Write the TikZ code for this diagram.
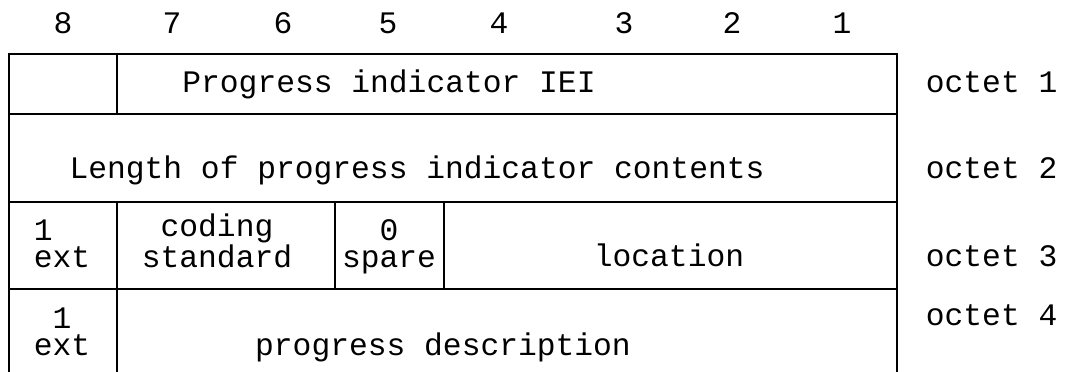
\documentclass[tikz,border=0pt]{standalone}
\usepackage{fontspec}
\setmainfont{Liberation Mono}
\usepackage{tikz}
\usetikzlibrary{positioning}

\begin{document}
\begin{tikzpicture}[x=1pt, y=-1pt, line width=1.8pt,
      txt/.style={inner sep=0pt, anchor=base, align=center,
                  font=\fontsize{31.3}{27}\selectfont},
      oct/.style={txt, anchor=base west}]
      \useasboundingbox (0,0) rectangle (1069,372);
      % bit numbers
      \foreach \b/\x in {8/63,7/172,6/283,5/388,4/499,3/624,2/732,1/842}
        \node[txt] (bit\b) at (\x,33) {\b};

      % frame and rows
      \draw (9,372) -- (9,54) -- (897,54) -- (897,372);
      \draw (9,114) -- (897,114);
      \draw (9,202) -- (897,202);
      \draw (9,289) -- (897,289);
      % column dividers
      \draw (117,54) -- (117,114);
      \draw (117,202) -- (117,372);
      \draw (335,202) -- (335,289);
      \draw (444,202) -- (444,289);

      \node[txt] (iei) at (389,92) {Progress indicator IEI};
      \node[txt] (len) at (417,178) {Length of progress indicator contents};
      \node[txt, align=left] (ext3) at (62,267) {1\\ext};
      \node[txt] (coding) at (217,267) {coding\\standard};
      \node[txt] (spare) at (389,267) {0\\spare};
      \node[txt] (loc) at (669,266) {location};
      \node[txt] (ext4) at (62,355) {1\\ext};
      \node[txt] (desc) at (443,355) {progress description};

      \node[oct] (oct1) at (925,92) {octet 1};
      \node[oct] (oct2) at (925,178) {octet 2};
      \node[oct] (oct3) at (925,266) {octet 3};
      \node[oct] (oct4) at (925,325) {octet 4};
    \end{tikzpicture}
\end{document}
